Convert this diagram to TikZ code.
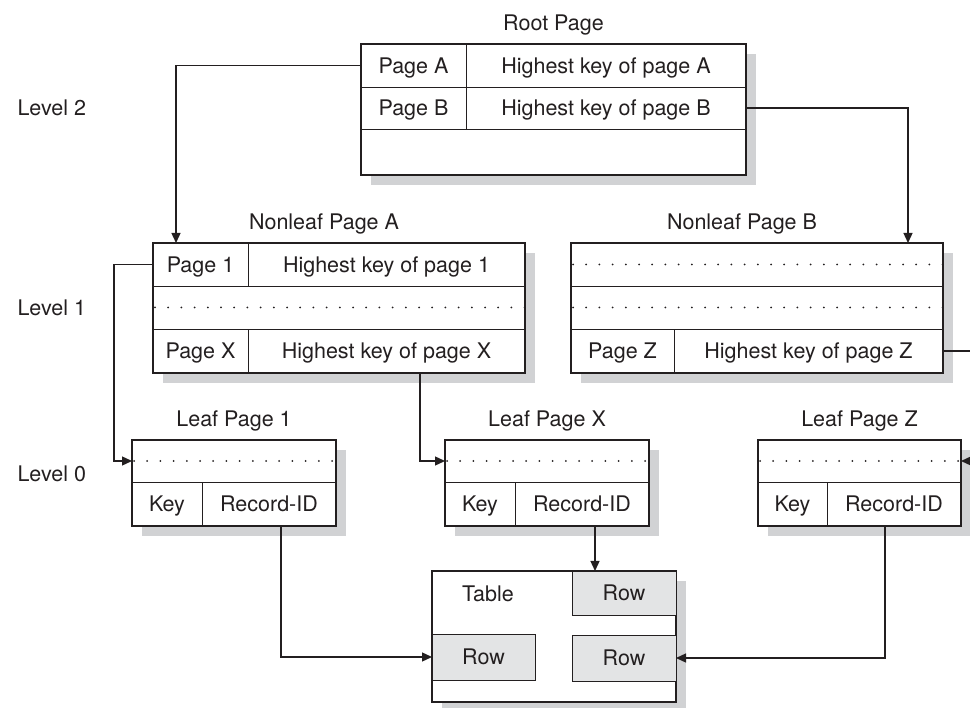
\documentclass[tikz,border=0pt]{standalone}
\usepackage{fontspec}
\setmainfont{TeX Gyre Heros}
\usepackage{xcolor}
\usetikzlibrary{arrows.meta, positioning}
\definecolor{shade}{RGB}{209,210,212}
\definecolor{rowfill}{RGB}{227,228,229}
\definecolor{ink}{RGB}{35,31,32}
\tikzset{
x=1pt, y=-1pt, % pixel units, y grows downwards
>={Triangle[length=10pt,width=9pt]}, % filled arrow heads
every node/.style={font=\fontsize{21.5}{25}\selectfont, text=ink},
page/.style={draw=ink, line width=1.5pt, fill=white, inner sep=0pt, outer sep=0pt, anchor=north west,
  preaction={fill=shade, transform canvas={shift={(10pt,-10pt)}}}}, % box with grey shadow
cell/.style={draw=ink, line width=0.9pt, inner sep=0pt, outer sep=0pt, anchor=north west, minimum height=43pt,
  text height=19.5pt, text depth=4pt}, % caps centred in the row
row/.style={cell, fill=rowfill, minimum width=104pt},
dots/.style={draw=ink, line width=2pt, line cap=round, dash pattern=on 0pt off 13.2pt},
link/.style={draw=ink, line width=1.3pt, ->},
title/.style={inner sep=0pt},
}

\begin{document}
\begin{tikzpicture}
    \useasboundingbox (0,0) rectangle (970,708);

    % level 2
    \node[page, minimum width=385pt, minimum height=131pt] (root) at (361,44) {};
    \node[cell, minimum width=105pt] (rA) at (361,44) {Page A};
    \node[cell, minimum width=280pt, right=0pt of rA] (rKA) {Highest key of page A};
    \node[cell, minimum width=105pt, minimum height=42pt, below=0pt of rA] (rB) {Page B};
    \node[cell, minimum width=280pt, minimum height=42pt, right=0pt of rB] (rKB) {Highest key of page B};
    \node[title, above=9pt of root] (rootT) {Root Page};

    % level 1
    \node[page, minimum width=372pt, minimum height=130pt] (aPage) at (153,243) {};
    \node[cell, minimum width=95pt] (aP1) at (153,243) {Page 1};
    \node[cell, minimum width=277pt, right=0pt of aP1] (aK1) {Highest key of page 1};
    \node[cell, minimum width=372pt] (aDots) at (153,286) {};
    \node[cell, minimum width=95pt, minimum height=44pt] (aPX) at (153,329) {Page X};
    \node[cell, minimum width=277pt, minimum height=44pt, right=0pt of aPX] (aKX) {Highest key of page X};
    \node[title, above=9pt of aPage, xshift=-15pt] (aT) {Nonleaf Page A};

    \node[page, minimum width=372pt, minimum height=130pt] (bPage) at (571,243) {};
    \node[cell, minimum width=372pt] (bDots1) at (571,243) {};
    \node[cell, minimum width=372pt] (bDots2) at (571,286) {};
    \node[cell, minimum width=103pt, minimum height=44pt] (bPZ) at (571,329) {Page Z};
    \node[cell, minimum width=269pt, minimum height=44pt, right=0pt of bPZ] (bKZ) {Highest key of page Z};
    \node[title, above=9pt of bPage, xshift=-15pt] (bT) {Nonleaf Page B};

    % level 0
    \node[page, minimum width=204pt, minimum height=86pt] (l1Page) at (132,440) {};
    \node[cell, minimum width=204pt, minimum height=42pt] (l1Dots) at (132,440) {};
    \node[cell, minimum width=70pt, minimum height=44pt] (l1Key) at (132,482) {Key};
    \node[cell, minimum width=134pt, minimum height=44pt, right=0pt of l1Key] (l1RID) {Record-ID};
    \node[title, above=9pt of l1Page] (l1T) {Leaf Page 1};

    \node[page, minimum width=204pt, minimum height=86pt] (lxPage) at (445,440) {};
    \node[cell, minimum width=204pt, minimum height=42pt] (lxDots) at (445,440) {};
    \node[cell, minimum width=70pt, minimum height=44pt] (lxKey) at (445,482) {Key};
    \node[cell, minimum width=134pt, minimum height=44pt, right=0pt of lxKey] (lxRID) {Record-ID};
    \node[title, above=9pt of lxPage] (lxT) {Leaf Page X};

    \node[page, minimum width=203pt, minimum height=86pt] (lzPage) at (758,440) {};
    \node[cell, minimum width=203pt, minimum height=42pt] (lzDots) at (758,440) {};
    \node[cell, minimum width=69pt, minimum height=44pt] (lzKey) at (758,482) {Key};
    \node[cell, minimum width=134pt, minimum height=44pt, right=0pt of lzKey] (lzRID) {Record-ID};
    \node[title, above=9pt of lzPage] (lzT) {Leaf Page Z};

    \foreach \d in {aDots, bDots1, bDots2, l1Dots, lxDots, lzDots}
        \draw[dots] ([xshift=2pt]\d.west) -- (\d.east);

    % table
    \node[page, minimum width=244pt, minimum height=131pt] (tbl) at (432,571) {};
    \node (tblT) at (488,594) {Table};
    \node[row, minimum height=44pt] (row1) at (572,571) {Row};
    \node[row, minimum width=103pt, minimum height=46pt] (row2) at (432,634) {Row};
    \node[row, minimum height=46pt] (row3) at (572,635) {Row};

    % levels
    \node[anchor=west] (lv2) at (14,108) {Level 2};
    \node[anchor=west] (lv1) at (14,308) {Level 1};
    \node[anchor=west] (lv0) at (14,474) {Level 0};

    % pointers
    \draw[link] (rA.west) -| ([xshift=23pt]aPage.north west);
    \draw[link] (rKB.east) -| ([xshift=-35pt]bPage.north east);
    \draw[link] (aP1.west) -- ++(-39pt,0) |- (l1Dots.west);
    \draw[link] ([xshift=-105pt]aPage.south east) |- (lxDots.west);
    \draw[link] (bKZ.east) -- ++(32pt,0) |- (lzDots.east);
    \draw[link] ([xshift=-55pt]l1RID.south east) |- (row2.west);
    \coordinate (lxOut) at ([xshift=-54pt]lxRID.south east);
    \draw[link] (lxOut) -- (lxOut |- row1.north);
    \draw[link] ([xshift=58pt]lzRID.south west) |- (row3.east);
\end{tikzpicture}
\end{document}
